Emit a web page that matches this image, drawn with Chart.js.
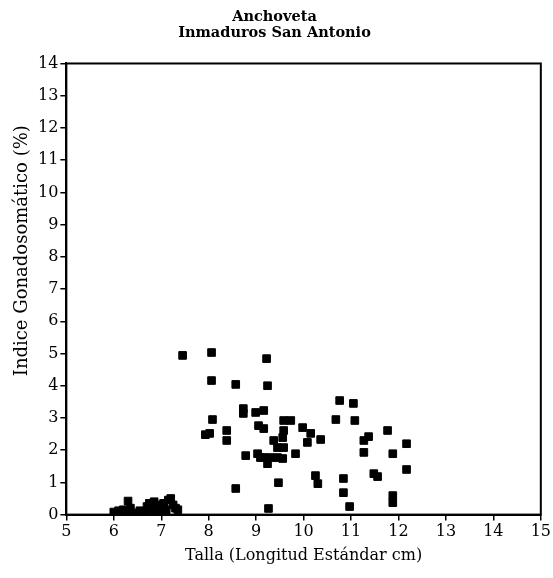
<!DOCTYPE html>
<html>
<head>
<meta charset="utf-8">
<script src="https://cdn.jsdelivr.net/npm/chart.js@4"></script>
<style>
  html, body { margin: 0; padding: 0; background: #fff; }
  #wrap { width: 553px; height: 578px; }
</style>
</head>
<body>
<div id="wrap"><canvas id="grafico"></canvas></div>
<script>
// Talla (cm) e IGS (%)
const talla = [
  6.0, 6.1, 6.2, 6.25, 6.3, 6.35, 6.4, 6.5, 6.55, 6.6, 6.65, 6.7, 6.75, 6.8, 6.85, 6.9, 6.9, 6.95,
  7.0, 7.05, 7.1, 7.1, 7.15, 7.2, 7.25, 7.3, 7.35,
  7.45, 8.06, 8.06, 8.57, 9.22, 9.24, 8.08, 8.02, 7.93, 8.38, 8.38,
  8.73, 8.73, 8.99, 9.16, 9.05, 9.16, 8.78, 9.03, 9.16, 9.24, 9.09, 9.3, 9.45, 9.56,
  8.57, 9.26, 9.58, 9.73, 9.58, 9.56, 9.98, 10.15, 10.08, 10.36, 9.37, 9.45, 9.58, 9.83,
  9.47, 10.25, 10.3, 10.76, 11.05, 10.68, 11.08, 10.84, 10.84, 10.97,
  11.37, 11.27, 11.27, 11.77, 12.17, 11.88, 12.17, 11.48, 11.56, 11.88, 11.88
]
const igs = [
  0.08, 0.12, 0.15, 0.1, 0.42, 0.2, 0.05, 0.03, 0.12, 0.1, 0.05, 0.25, 0.35, 0.15, 0.4, 0.3, 0.05, 0.1,
  0.2, 0.35, 0.15, 0.05, 0.45, 0.5, 0.3, 0.2, 0.15,
  4.94, 5.03, 4.16, 4.04, 4.84, 4.0, 2.95, 2.52, 2.48, 2.61, 2.3,
  3.29, 3.14, 3.17, 3.23, 2.76, 2.67, 1.83, 1.89, 1.77, 1.58, 1.77, 1.77, 1.77, 1.74,
  0.81, 0.19, 2.92, 2.92, 2.61, 2.39, 2.7, 2.52, 2.24, 2.33, 2.3, 2.08, 2.08, 1.89,
  0.99, 1.21, 0.96, 3.54, 3.45, 2.95, 2.92, 1.12, 0.68, 0.25,
  2.42, 2.3, 1.93, 2.61, 2.2, 1.89, 1.4, 1.27, 1.18, 0.59, 0.37
]
const titulo = ['Anchoveta', 'Inmaduros San Antonio']
const tituloX = 'Talla (Longitud Estándar cm)'
const tituloY = 'Indice Gonadosomático (%)'

const puntos = talla.map((t, i) => ({ x: t, y: igs[i] }))
const familia = "'DejaVu Serif', 'Liberation Serif', serif"
const fuente = { family: familia, size: 16 }

// marco completo y titulo del eje Y (un poco por encima del centro, como el original)
const marco = {
  id: 'marco',
  afterDraw(chart) {
    const { ctx, chartArea: a } = chart
    ctx.save()
    ctx.strokeStyle = '#000'
    ctx.lineWidth = 2
    ctx.strokeRect(a.left, a.top, a.right - a.left, a.bottom - a.top)
    ctx.translate(22, a.top + (a.bottom - a.top) * 0.415)
    ctx.rotate(-Math.PI / 2)
    ctx.fillStyle = '#000'
    ctx.font = '18px ' + familia
    ctx.textAlign = 'center'
    ctx.textBaseline = 'middle'
    ctx.fillText(tituloY, 0, 0)
    ctx.restore()
  }
}

new Chart(document.getElementById('grafico'), {
  type: 'scatter',
  data: {
    datasets: [{
      data: puntos,
      pointStyle: 'rect',
      pointRadius: 5.4,
      backgroundColor: '#000',
      borderColor: '#000',
      borderWidth: 1
    }]
  },
  options: {
    responsive: true,
    maintainAspectRatio: false,
    animation: false,
    layout: { padding: { left: 0, right: 4, top: 9, bottom: 13 } },
    plugins: {
      legend: { display: false },
      tooltip: { enabled: false },
      title: {
        display: true,
        text: titulo,
        color: '#000',
        font: { family: familia, size: 14.5, weight: 'bold', lineHeight: 1.12 },
        padding: { top: 0, bottom: 22 }
      }
    },
    scales: {
      x: {
        type: 'linear',
        min: 5, max: 15,
        ticks: { stepSize: 1, color: '#000', font: fuente, padding: 2 },
        grid: { drawOnChartArea: false, drawTicks: true, tickLength: 6, color: '#000', lineWidth: 1.5 },
        border: { display: true, color: '#000', width: 2 },
        title: { display: true, text: tituloX, color: '#000', font: fuente, padding: { top: 2, bottom: 0 } }
      },
      y: {
        type: 'linear',
        min: 0, max: 14,
        afterFit(scale) { scale.width += 36 },
        ticks: { stepSize: 1, color: '#000', font: fuente, padding: 2 },
        grid: { drawOnChartArea: false, drawTicks: true, tickLength: 6, color: '#000', lineWidth: 1.5 },
        border: { display: true, color: '#000', width: 2 }
      }
    }
  },
  plugins: [marco]
})
</script>
</body>
</html>
